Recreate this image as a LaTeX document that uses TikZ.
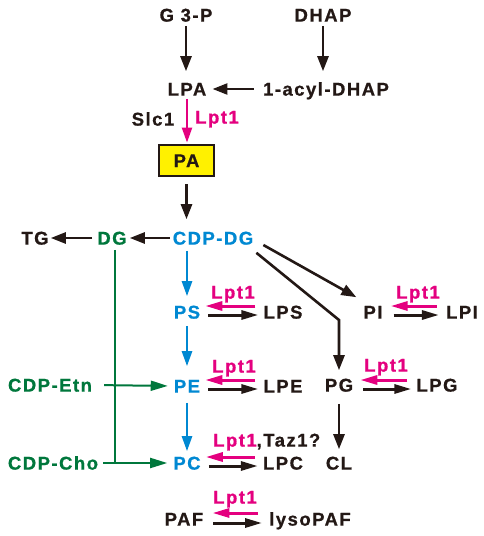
\documentclass[tikz,border=0pt]{standalone}
\usepackage{fontspec}
\setmainfont{Liberation Sans}
\newfontfamily\lbfont{Liberation Sans Bold}[LetterSpace=8,FakeBold=0.8]
\usetikzlibrary{arrows.meta,calc}
\definecolor{mag}{HTML}{E4007F}
\definecolor{cblue}{HTML}{0088D2}
\definecolor{cgreen}{HTML}{00773C}
\definecolor{cblk}{HTML}{231815}
\definecolor{cyel}{HTML}{FFF100}
\begin{document}
\begin{tikzpicture}[x=1pt,y=-1pt,
  lbl/.style={font=\lbfont\fontsize{18.5}{20}\selectfont, inner sep=2pt, text height=13.2pt, text depth=0pt, text=cblk},
  bl/.style={lbl,text=cblue},
  gr/.style={lbl,text=cgreen},
  mg/.style={lbl,text=mag},
  arr/.style={draw=cblk, line width=2.6pt, -{Triangle[length=15pt,width=11pt]}},
  barr/.style={draw=cblue, line width=2.4pt, -{Triangle[length=15pt,width=10pt]}},
  marr/.style={draw=mag, line width=2.2pt, -{Triangle[length=15pt,width=10pt]}},
  hm/.style={draw=mag, line width=3pt, -{Triangle[length=17pt,width=9pt]}},
  hk/.style={draw=cblk, line width=3pt, -{Triangle[length=17pt,width=9pt]}},
  garr/.style={draw=cgreen, line width=2pt, -{Triangle[length=17pt,width=10pt]}},
]
\path[use as bounding box] (0,0) rectangle (484,536);

% nodes
\node[lbl] (g3p) at (186,15) {G 3-P};
\node[lbl] (dhap) at (323,15) {DHAP};
\node[lbl] (lpa) at (187,89) {LPA};
\node[lbl] (acyl) at (326,89) {1-acyl-DHAP};
\node[lbl] (slc) at (153,119) {Slc1};
\node[mg] (lptA) at (217,117) {Lpt1};
\node[lbl, draw=cblk, line width=2.8pt, fill=cyel, minimum width=55pt, minimum height=31pt, inner sep=0pt] (pa) at (186.5,160.5) {PA};
\node[bl] (cdpdg) at (213,238) {CDP-DG};
\node[gr] (dg) at (112,238) {DG};
\node[lbl] (tg) at (35,238) {TG};
\node[bl] (ps) at (187,312) {PS};
\node[lbl] (lps) at (283,312) {LPS};
\node[mg] (lptS) at (233,292) {Lpt1};
\node[lbl] (pi) at (373,312) {PI};
\node[lbl] (lpi) at (462,312) {LPI};
\node[mg] (lptI) at (418,292) {Lpt1};
\node[bl] (pe) at (187,386) {PE};
\node[lbl] (lpe) at (283,386) {LPE};
\node[mg] (lptE) at (234,366) {Lpt1};
\node[lbl] (pg) at (339,385) {PG};
\node[lbl] (lpg) at (437,385) {LPG};
\node[mg] (lptG) at (386,365) {Lpt1};
\node[gr] (etn) at (50,385) {CDP-Etn};
\node[bl] (pc) at (187,463) {PC};
\node[lbl] (lpc) at (283,463) {LPC};
\node[lbl, anchor=west] (lptC) at (211,440) {\textcolor{mag}{Lpt1},Taz1?};
\node[lbl] (cl) at (339,463) {CL};
\node[gr] (cho) at (53,463) {CDP-Cho};
\node[lbl] (paf) at (184,519) {PAF};
\node[lbl] (lyso) at (310,519) {lysoPAF};
\node[mg] (lptP) at (235,497) {Lpt1};

% top part
\draw[arr, shorten <=2pt, shorten >=9pt] (g3p.south) -- (g3p.south|-lpa.north);
\draw[arr, shorten <=2pt, shorten >=9pt] (dhap.south) -- (dhap.south|-acyl.north);
\draw[arr, shorten <=7pt, shorten >=4pt] (acyl.west) -- (acyl.west-|lpa.east);
\draw[marr, shorten <=1pt, shorten >=1pt] (lpa.south) -- (lpa.south|-pa.north);
\draw[arr, shorten <=7pt, shorten >=10pt] (pa.south) -- (pa.south|-cdpdg.north);
\draw[arr, shorten <=1pt, shorten >=1pt] (cdpdg.west) -- (dg.east);
\draw[arr, shorten <=3pt, shorten >=0pt] (dg.west) -- (tg.east);

% blue chain
\draw[barr, shorten <=4pt, shorten >=7pt] (ps.north|-cdpdg.south) -- (ps.north);
\draw[barr, shorten <=5pt, shorten >=11pt] (ps.south) -- (pe.north);
\draw[barr, shorten <=8pt, shorten >=3pt] (pe.south) -- (pc.north);

% CDP-DG to PI and PG
\draw[arr] ([shift={(8,7)}]cdpdg.east) -- ([shift={(-5,-6)}]pi.north west);
\draw[arr, shorten >=6pt] ([shift={(1,6)}]cdpdg.south east) -- (pg.north|-{(0,320)}) -- (pg.north);
\draw[arr, shorten <=10pt, shorten >=5pt] (pg.south) -- (cl.north);

% reversible pairs
\draw[hm, shorten <=6pt, shorten >=3pt] ([yshift=6pt]lps.west) -- ([yshift=6pt]lps.west-|ps.east);
\draw[hk, shorten <=6pt, shorten >=3pt] ([yshift=-3pt]ps.east) -- ([yshift=-3pt]ps.east-|lps.west);
\draw[hm, shorten <=7pt, shorten >=6pt] ([yshift=6pt]lpi.west) -- ([yshift=6pt]lpi.west-|pi.east);
\draw[hk, shorten <=9pt, shorten >=5pt] ([yshift=-3pt]pi.east) -- ([yshift=-3pt]pi.east-|lpi.west);
\draw[hm, shorten <=6pt, shorten >=3pt] ([yshift=6pt]lpe.west) -- ([yshift=6pt]lpe.west-|pe.east);
\draw[hk, shorten <=6pt, shorten >=3pt] ([yshift=-3pt]pe.east) -- ([yshift=-3pt]pe.east-|lpe.west);
\draw[hm, shorten <=7pt, shorten >=5pt] ([yshift=5pt]lpg.west) -- ([yshift=5pt]lpg.west-|pg.east);
\draw[hk, shorten <=8pt, shorten >=3pt] ([yshift=-4pt]pg.east) -- ([yshift=-4pt]pg.east-|lpg.west);
\draw[hm, shorten <=6pt, shorten >=3pt] ([yshift=6pt]lpc.west) -- ([yshift=6pt]lpc.west-|pc.east);
\draw[hk, shorten <=6pt, shorten >=3pt] ([yshift=-3pt]pc.east) -- ([yshift=-3pt]pc.east-|lpc.west);
\draw[hm, shorten <=9pt, shorten >=7pt] ([yshift=6pt]lyso.west) -- ([yshift=6pt]lyso.west-|paf.east);
\draw[hk, shorten <=8pt, shorten >=5pt] ([yshift=-4pt]paf.east) -- ([yshift=-4pt]paf.east-|lyso.west);

% green
\draw[garr, shorten >=4pt] ([xshift=3pt,yshift=-3pt]dg.south) |- (pc.west);
\draw[garr, shorten <=10pt, shorten >=4pt] (etn.east) -- (pe.west);
\draw[draw=cgreen, line width=2pt, shorten <=3pt] (cho.east) -- ([xshift=3pt]dg.south|-cho.east);
\end{tikzpicture}
\end{document}
